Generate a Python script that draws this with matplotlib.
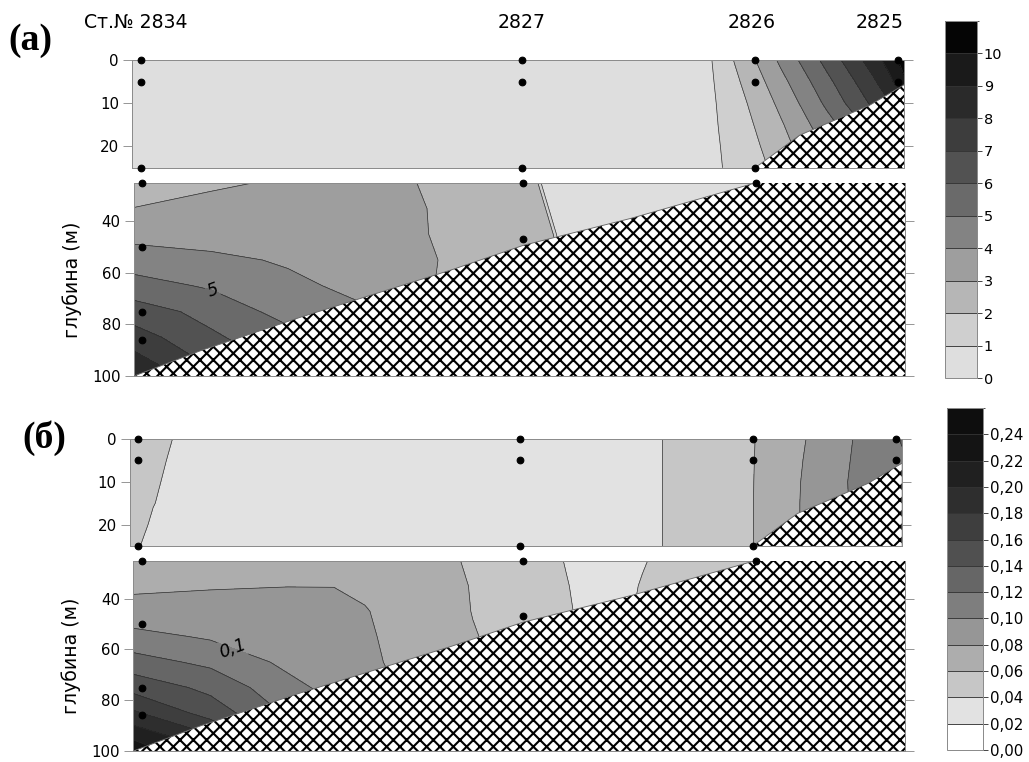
import numpy as np
import matplotlib
matplotlib.use("Agg")
import matplotlib.pyplot as plt
from matplotlib.colors import ListedColormap, BoundaryNorm
from matplotlib.patches import Polygon
from matplotlib.cm import ScalarMappable
from matplotlib.transforms import blended_transform_factory

plt.rcParams["font.family"] = ["DejaVu Sans"]
plt.rcParams["hatch.linewidth"] = 1.9

# ---- stations along the transect (distance across the section, 0-100) ----
station_labels = ["Ст.№ 2834", "2827", "2826", "2825"]
station_x = [1.1, 50.5, 80.7, 99.2]
sample_depths = [[0, 5, 25, 50, 75, 86], [0, 5, 25, 47], [0, 5, 25], [0, 5]]

# ---- sea floor profile ----
bottom_x = [0, 8.8, 21.8, 28.2, 41.2, 50.5, 64.5, 80.7, 86.5, 95.6, 100]
bottom_depth = [100, 90, 77, 71, 58.8, 49.3, 38.8, 25, 17.4, 10.4, 5.7]

# ---- panel (а): upper layer 0-25 m ----
a_top_x = [0, 40, 70, 72, 74, 76, 78, 80, 82, 84, 86, 88, 90, 92, 94, 96, 98, 100]
a_top_depth = [0, 5, 10, 15, 20, 25]
a_top_values = [
    [0.5, 0.5, 0.5, 0.55, 0.6, 1.32, 2.03, 2.72, 3.44, 4.18, 4.89, 5.61, 6.32, 7.04, 7.75, 8.5, 9.37, 10.4],
    [0.5, 0.5, 0.5, 0.55, 0.6, 1.18, 1.76, 2.38, 3.0, 3.67, 4.34, 5.03, 5.72, 6.41, 7.11, 7.82, 8.65, 9.8],
    [0.5, 0.5, 0.5, 0.55, 0.6, 1.08, 1.58, 2.08, 2.64, 3.23, 3.87, 4.53, 5.2, 5.87, 6.53, 7.2, 7.9, 8.6],
    [0.5, 0.5, 0.5, 0.55, 0.6, 1.02, 1.45, 1.87, 2.36, 2.87, 3.44, 4.03, 4.6, 5.2, 5.8, 6.4, 7.0, 7.6],
    [0.5, 0.5, 0.5, 0.55, 0.6, 0.96, 1.34, 1.72, 2.12, 2.62, 3.1, 3.6, 4.1, 4.6, 5.1, 5.6, 6.1, 6.6],
    [0.5, 0.5, 0.5, 0.55, 0.6, 0.92, 1.25, 1.59, 1.93, 2.4, 2.9, 3.4, 3.9, 4.4, 4.9, 5.4, 5.9, 6.4],
]

# ---- panel (а): lower layer 25-100 m ----
a_bot_x = [0, 10, 20, 30, 36, 40, 46, 52, 53, 54, 55, 56, 70, 100]
a_bot_depth = [25, 35, 45, 55, 65, 75, 85, 95, 100]
a_bot_values = [
    [2.50, 2.85, 3.12, 3.35, 3.05, 2.75, 2.55, 2.90, 0.50, 0.50, 0.50, 0.50, 0.50, 0.50],
    [3.02, 3.30, 3.45, 3.40, 3.15, 2.85, 2.60, 2.50, 2.90, 0.50, 0.50, 0.50, 0.50, 0.50],
    [3.70, 3.60, 3.55, 3.45, 3.25, 2.80, 2.60, 2.50, 2.45, 2.90, 0.50, 0.50, 0.50, 0.50],
    [4.47, 4.20, 3.90, 3.50, 3.30, 2.95, 2.70, 2.50, 2.45, 2.40, 2.30, 2.20, 1.50, 1.00],
    [5.42, 4.87, 4.20, 3.75, 3.30, 2.90, 2.70, 2.50, 2.45, 2.40, 2.30, 2.20, 1.50, 1.00],
    [6.45, 5.70, 4.60, 4.10, 3.60, 2.90, 2.70, 2.50, 2.45, 2.40, 2.30, 2.20, 1.50, 1.00],
    [7.48, 6.15, 5.36, 4.80, 4.20, 3.00, 2.70, 2.50, 2.45, 2.40, 2.30, 2.20, 1.50, 1.00],
    [8.45, 6.84, 5.80, 5.20, 4.60, 3.20, 2.80, 2.50, 2.45, 2.40, 2.30, 2.20, 1.50, 1.00],
    [8.90, 7.30, 6.20, 5.50, 4.90, 3.40, 2.90, 2.50, 2.45, 2.40, 2.30, 2.20, 1.50, 1.00],
]

# ---- panel (б): upper layer 0-25 m ----
b_top_x = [0, 3, 6, 9, 30, 60, 67, 71, 76, 80, 82, 86, 88, 92, 95, 100]
b_top_depth = [0, 5, 10, 15, 20, 25]
b_top_values = [
    [0.050, 0.045, 0.039, 0.032, 0.030, 0.030, 0.036, 0.044, 0.050, 0.057, 0.063, 0.076, 0.081, 0.095, 0.104, 0.121],
    [0.050, 0.044, 0.037, 0.032, 0.030, 0.030, 0.036, 0.044, 0.050, 0.0575, 0.063, 0.077, 0.082, 0.096, 0.105, 0.118],
    [0.049, 0.042, 0.036, 0.032, 0.030, 0.030, 0.036, 0.044, 0.050, 0.0575, 0.0635, 0.0775, 0.083, 0.097, 0.106, 0.115],
    [0.048, 0.0405, 0.035, 0.032, 0.030, 0.030, 0.036, 0.044, 0.050, 0.058, 0.063, 0.078, 0.083, 0.097, 0.105, 0.112],
    [0.047, 0.038, 0.034, 0.031, 0.030, 0.030, 0.036, 0.044, 0.050, 0.058, 0.063, 0.078, 0.083, 0.095, 0.102, 0.108],
    [0.044, 0.035, 0.033, 0.031, 0.030, 0.030, 0.036, 0.044, 0.050, 0.058, 0.063, 0.078, 0.083, 0.093, 0.100, 0.105],
]

# ---- panel (б): lower layer 25-100 m ----
b_bot_x = [0, 10, 20, 26, 30, 34, 40, 44, 48, 54, 58, 62, 66, 70, 80, 100]
b_bot_depth = [25, 35, 45, 55, 65, 75, 85, 95, 100]
b_bot_values = [
    [0.072, 0.074, 0.076, 0.076, 0.075, 0.072, 0.063, 0.058, 0.052, 0.043, 0.036, 0.032, 0.039, 0.045, 0.052, 0.055],
    [0.0765, 0.0785, 0.07975, 0.0797, 0.0775, 0.074, 0.066, 0.059, 0.053, 0.045, 0.037, 0.034, 0.041, 0.046, 0.052, 0.055],
    [0.087, 0.088, 0.0859, 0.0851, 0.0808, 0.076, 0.067, 0.0595, 0.055, 0.046, 0.038, 0.035, 0.042, 0.047, 0.052, 0.055],
    [0.1065, 0.0976, 0.092, 0.0905, 0.082, 0.077, 0.069, 0.061, 0.056, 0.050, 0.045, 0.045, 0.047, 0.049, 0.052, 0.055],
    [0.128, 0.1154, 0.0955, 0.092, 0.083, 0.078, 0.070, 0.062, 0.058, 0.052, 0.050, 0.050, 0.050, 0.050, 0.052, 0.055],
    [0.153, 0.1347, 0.106, 0.094, 0.088, 0.080, 0.072, 0.064, 0.060, 0.054, 0.052, 0.050, 0.050, 0.050, 0.052, 0.055],
    [0.183, 0.1513, 0.117, 0.105, 0.097, 0.088, 0.076, 0.066, 0.062, 0.056, 0.053, 0.051, 0.050, 0.050, 0.052, 0.055],
    [0.2179, 0.1854, 0.140, 0.125, 0.113, 0.100, 0.082, 0.070, 0.064, 0.058, 0.054, 0.052, 0.050, 0.050, 0.052, 0.055],
    [0.235, 0.195, 0.150, 0.130, 0.118, 0.105, 0.086, 0.072, 0.066, 0.059, 0.055, 0.052, 0.050, 0.050, 0.052, 0.055],
]

# ---- contour levels, colour scales, colorbar labels ----
levels_a = list(range(0, 12))
colors_a = ["#dedede", "#cfcfcf", "#b6b6b6", "#9e9e9e", "#838383", "#6a6a6a",
            "#525252", "#3d3d3d", "#2a2a2a", "#1a1a1a", "#050505"]
ticklabels_a = [str(v) for v in range(0, 11)]
label_level_a = 5

levels_b = [float(v) for v in np.round(np.arange(0, 0.27, 0.02), 2)]
colors_b = ["#ffffff", "#e2e2e2", "#c6c6c6", "#adadad", "#969696", "#7e7e7e", "#666666",
            "#505050", "#3e3e3e", "#2e2e2e", "#202020", "#141414", "#0e0e0e"]
ticklabels_b = [f"{v:.2f}".replace(".", ",") for v in levels_b[:-1]]
label_level_b = 0.1

depth_ticks_top = [0, 10, 20]
depth_ticks_bottom = [40, 60, 80, 100]

LINE_COLOR = "#2b2b2b"
SPINE_COLOR = "#8c8c8c"


def comma_fmt(v):
    return f"{v:g}".replace(".", ",")


W, H = 1029, 762
fig = plt.figure(figsize=(W / 80, H / 80), dpi=80)


def rect(left, top, right, bottom):
    return [left / W, 1 - bottom / H, (right - left) / W, (bottom - top) / H]


def draw_layer(ax, gx, gd, gv, levels, cmap, norm, dmin, dmax, yticks,
               label_level=None, label_pos=None):
    X, D = np.meshgrid(gx, gd)
    Z = np.array(gv)
    ax.contourf(X, D, Z, levels=levels, cmap=cmap, norm=norm, zorder=1)
    plain = [lv for lv in levels if label_level is None or abs(lv - label_level) > 1e-9]
    ax.contour(X, D, Z, levels=plain, colors=LINE_COLOR, linewidths=0.6, zorder=2)
    if label_level is not None:
        cs = ax.contour(X, D, Z, levels=[label_level], colors=LINE_COLOR,
                        linewidths=0.6, zorder=2)
        texts = cs.clabel(manual=[label_pos], fmt=comma_fmt, fontsize=15.5,
                          inline=True, inline_spacing=3, colors="black")
        for t in texts:
            t.set_fontstyle("italic")
    verts = list(zip(bottom_x, bottom_depth)) + [(100, 130), (0, 130)]
    ax.add_patch(Polygon(verts, closed=True, facecolor="white", edgecolor="black",
                         hatch="xx", linewidth=0, zorder=3))
    ax.plot(bottom_x, bottom_depth, color="#666666", lw=0.8, zorder=4)
    for sx, deps in zip(station_x, sample_depths):
        sel = [d for d in deps if dmin <= d <= dmax]
        ax.plot([sx] * len(sel), sel, "o", color="black", ms=6, clip_on=False, zorder=6)
    ax.set_xlim(0, 100)
    ax.set_ylim(dmax, dmin)
    ax.set_yticks(yticks)
    ax.tick_params(axis="y", direction="out", length=8, width=0.8, color=SPINE_COLOR,
                   left=True, right=True, labelleft=True, labelright=False,
                   labelsize=13.5, pad=4)
    ax.tick_params(axis="x", bottom=False, labelbottom=False)
    for s in ax.spines.values():
        s.set_color(SPINE_COLOR)
        s.set_linewidth(0.9)


def draw_colorbar(cax, levels, cmap, norm, labels, size):
    sm = ScalarMappable(norm=norm, cmap=cmap)
    cb = fig.colorbar(sm, cax=cax, ticks=levels[:-1], drawedges=True)
    cb.set_ticklabels(labels)
    cb.outline.set_edgecolor(SPINE_COLOR)
    cb.outline.set_linewidth(0.9)
    cb.dividers.set_color("#333333")
    cb.dividers.set_linewidth(0.8)
    cax.tick_params(length=4.5, width=0.8, color="#333333", labelsize=size, pad=1.5)


cmap_a = ListedColormap(colors_a)
norm_a = BoundaryNorm(levels_a, cmap_a.N)
cmap_b = ListedColormap(colors_b)
norm_b = BoundaryNorm(levels_b, cmap_b.N)

# panel (а)
ax_a1 = fig.add_axes(rect(132.3, 60.3, 904, 167.8))
draw_layer(ax_a1, a_top_x, a_top_depth, a_top_values, levels_a, cmap_a, norm_a,
           0, 25, depth_ticks_top)
ax_a2 = fig.add_axes(rect(134, 182.7, 905, 376))
draw_layer(ax_a2, a_bot_x, a_bot_depth, a_bot_values, levels_a, cmap_a, norm_a,
           25, 100, depth_ticks_bottom, label_level_a, (10.1, 67.9))
ax_a2.set_ylabel("глубина (м)", fontsize=17, va="center")
ax_a2.yaxis.set_label_coords(-0.0804, 0.5)

# station names above panel (а)
trans = blended_transform_factory(ax_a1.transData, ax_a1.transAxes)
for i, (name, sx) in enumerate(zip(station_labels, station_x)):
    if i == len(station_x) - 1:
        ax_a1.text(100, 1.356, name, transform=trans, ha="right", va="center", fontsize=17)
    elif i == 0:
        ax_a1.text(sx - 0.6, 1.356, name, transform=trans, ha="center", va="center", fontsize=17)
    else:
        ax_a1.text(sx - 0.4 * (i == 2), 1.356, name, transform=trans, ha="center",
                   va="center", fontsize=17)

# panel (б)
ax_b1 = fig.add_axes(rect(130, 439, 901.7, 546))
draw_layer(ax_b1, b_top_x, b_top_depth, b_top_values, levels_b, cmap_b, norm_b,
           0, 25, depth_ticks_top)
ax_b2 = fig.add_axes(rect(133.3, 560.5, 905, 751))
draw_layer(ax_b2, b_bot_x, b_bot_depth, b_bot_values, levels_b, cmap_b, norm_b,
           25, 100, depth_ticks_bottom, label_level_b, (12.9, 59.7))
ax_b2.set_ylabel("глубина (м)", fontsize=17, va="center")
ax_b2.yaxis.set_label_coords(-0.0804, 0.5)

# colour scales
draw_colorbar(fig.add_axes(rect(945, 20.8, 977, 378.3)), levels_a, cmap_a, norm_a, ticklabels_a, 13)
draw_colorbar(fig.add_axes(rect(947, 408, 983, 750)), levels_b, cmap_b, norm_b, ticklabels_b, 13.5)

# panel letters
fig.text(30.5 / W, 1 - 41 / H, "(а)", fontsize=34, fontweight="bold",
         family="Liberation Serif", ha="center", va="center")
fig.text(44.5 / W, 1 - 438.5 / H, "(б)", fontsize=34, fontweight="bold",
         family="Liberation Serif", ha="center", va="center")

fig.savefig("out.png", dpi=80)
